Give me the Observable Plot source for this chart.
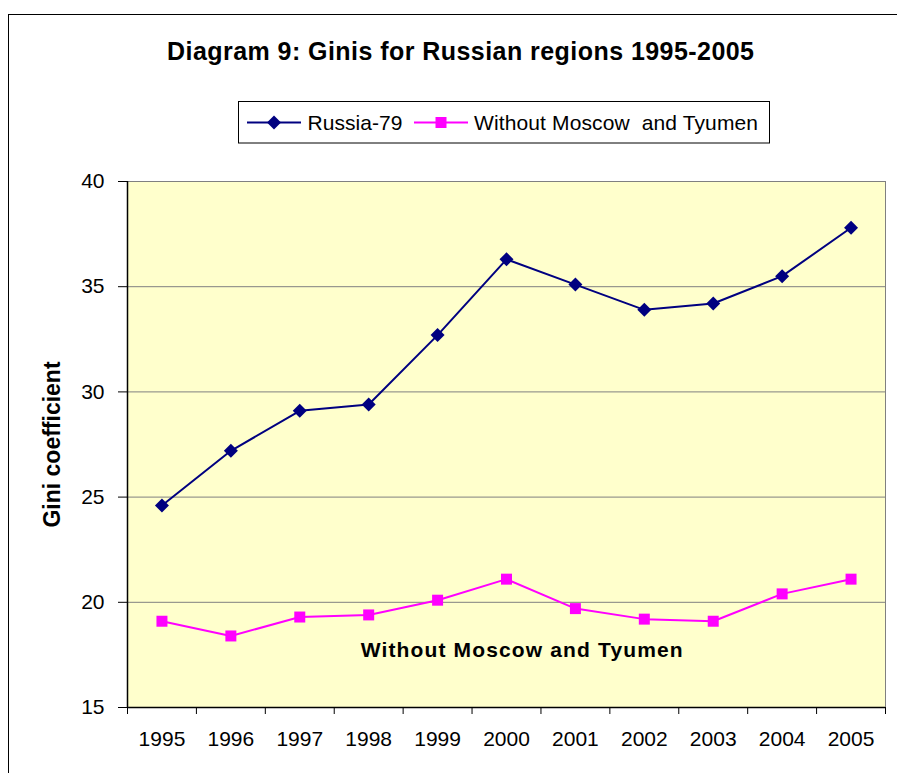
<!DOCTYPE html>
<html><head><meta charset="utf-8">
<script src="https://cdn.jsdelivr.net/npm/d3@7"></script>
<script src="https://cdn.jsdelivr.net/npm/@observablehq/plot@0.6"></script>
<style>
body{margin:0;background:#fff;}
#wrap{position:relative;width:897px;height:773px;overflow:hidden;font-family:Arial,"Liberation Sans",sans-serif;}
#border{position:absolute;left:8px;top:14px;width:1000px;height:1000px;border-left:1.5px solid #000;border-top:1.5px solid #000;}
#chart{position:absolute;left:0;top:0;}
#over{position:absolute;left:0;top:0;pointer-events:none;}
</style>
</head><body>
<div id="wrap"><div id="border"></div><div id="chart"></div>
<svg id="over" width="897" height="773" font-family="Arial, 'Liberation Sans', sans-serif"></svg></div>
<script>
const title = "Diagram 9: Ginis for Russian regions 1995-2005";
const yLabel = "Gini coefficient";
const seriesNames = ["Russia-79", "Without Moscow  and Tyumen"];
const seriesColors = ["#000080", "#FF00FF"];
const years = [1995,1996,1997,1998,1999,2000,2001,2002,2003,2004,2005];
const russia79 = [24.6,27.2,29.1,29.4,32.7,36.3,35.1,33.9,34.2,35.5,37.8];
const withoutMoscowTyumen = [19.1,18.4,19.3,19.4,20.1,21.1,19.7,19.2,19.1,20.4,21.1];
const yTicks = [15,20,25,30,35,40];
const annotation = {text: "Without Moscow and Tyumen", year: 2000.22, value: 17.7};

const rows = years.flatMap((yr,i) => [
  {year: yr, value: russia79[i], series: seriesNames[0]},
  {year: yr, value: withoutMoscowTyumen[i], series: seriesNames[1]}
]);
const bounds = [...years.map(y => y - 0.5), years[years.length-1] + 0.5];

const plot = Plot.plot({
  width: 897, height: 773,
  marginLeft: 127, marginRight: 12, marginTop: 181, marginBottom: 66,
  style: {fontFamily: "Arial, 'Liberation Sans', sans-serif", fontSize: "21px", background: "transparent", color: "#000", overflow: "visible"},
  x: {domain: [bounds[0], bounds[bounds.length-1]]},
  y: {domain: [yTicks[0], yTicks[yTicks.length-1]]},
  color: {domain: seriesNames, range: seriesColors},
  marks: [
    Plot.frame({fill: "#FFFFCC", stroke: "#808080"}),
    Plot.gridY(yTicks.slice(1, -1), {stroke: "#808080", strokeOpacity: 1}),
    Plot.ruleX([bounds[0]], {stroke: "#000", strokeWidth: 1.5}),
    Plot.ruleY([yTicks[0]], {stroke: "#000", strokeWidth: 1.5}),
    Plot.axisY(yTicks, {tickSize: 9, tickPadding: 14, fontSize: 21, label: null, stroke: "#000"}),
    Plot.axisX(bounds, {tickSize: 7, tickFormat: () => "", label: null, stroke: "#000"}),
    Plot.axisX(years, {tickSize: 0, tickPadding: 24, fontSize: 21, tickFormat: d => String(d), label: null}),
    Plot.line(rows, {x: "year", y: "value", z: "series", stroke: "series", strokeWidth: 2}),
    Plot.dot(rows.filter(d => d.series === seriesNames[0]), {x: "year", y: "value", symbol: "diamond2", r: 6.3, fill: seriesColors[0], stroke: null}),
    Plot.dot(rows.filter(d => d.series === seriesNames[1]), {x: "year", y: "value", symbol: "square", r: 6.2, fill: seriesColors[1], stroke: null}),
    Plot.text([annotation], {x: "year", y: "value", text: "text", fontSize: 21, fontWeight: "bold", fill: "#000"}),
    Plot.text([yLabel], {frameAnchor: "left", textAnchor: "middle", rotate: -90, dx: -75, dy: 0, fontSize: 23, fontWeight: "bold", fill: "#000"})
  ]
});
document.getElementById("chart").appendChild(plot);
d3.select(plot).selectAll("text").filter(function(){ return this.textContent === annotation.text; })
  .attr("textLength", 322).attr("lengthAdjust", "spacing");

const over = d3.select("#over");
over.append("text").attr("x", 460.5).attr("y", 60).attr("text-anchor", "middle")
  .attr("font-size", 25).attr("font-weight", "bold").attr("textLength", 587).attr("lengthAdjust", "spacing").text(title);
const lg = over.append("g");
lg.append("rect").attr("x", 238.5).attr("y", 101.5).attr("width", 531).attr("height", 41.5)
  .attr("fill", "#fff").attr("stroke", "#000").attr("stroke-width", 1);
const items = [
  {x0: 247, x1: 301, xt: 307.5, w: 95, sym: "diamond"},
  {x0: 414, x1: 468, xt: 474, w: 284, sym: "square"}
];
items.forEach((it, i) => {
  const cy = 122.5, cx = (it.x0 + it.x1) / 2;
  lg.append("line").attr("x1", it.x0).attr("x2", it.x1).attr("y1", cy).attr("y2", cy)
    .attr("stroke", seriesColors[i]).attr("stroke-width", 2);
  if (it.sym === "diamond") {
    lg.append("path").attr("d", `M${cx},${cy-7}L${cx+7},${cy}L${cx},${cy+7}L${cx-7},${cy}Z`).attr("fill", seriesColors[i]);
  } else {
    lg.append("rect").attr("x", cx-5.5).attr("y", cy-5.5).attr("width", 11).attr("height", 11).attr("fill", seriesColors[i]);
  }
  lg.append("text").attr("x", it.xt).attr("y", 129.5).attr("font-size", 21).attr("xml:space", "preserve")
    .style("white-space", "pre").attr("textLength", it.w).attr("lengthAdjust", "spacing").text(seriesNames[i]);
});
</script>
</body></html>
